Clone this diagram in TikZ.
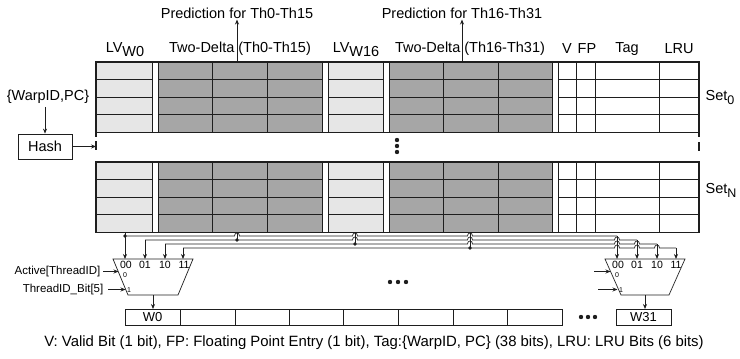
\documentclass[tikz,border=0pt]{standalone}
\usepackage{fontspec}
\setmainfont{Liberation Sans}
\usetikzlibrary{arrows.meta}
\definecolor{lvgray}{RGB}{230,230,230}
\definecolor{tdgray}{RGB}{166,166,166}
\definecolor{ink}{RGB}{30,30,30}
\begin{document}
\begin{tikzpicture}[x=1pt,y=-1pt,
  cell/.style={line width=0.8pt, draw=ink},
  frame/.style={line width=1.3pt, draw=ink},
  wire/.style={line width=0.7pt, draw=ink},
  arr/.style={-{Stealth[length=5pt,width=4pt]}},
  lbl/.style={inner sep=1pt, font=\fontsize{14.5}{16}\selectfont},
  small/.style={inner sep=0.5pt, font=\fontsize{11.5}{13}\selectfont},
  muxlbl/.style={inner sep=0pt, font=\fontsize{10.5}{12}\selectfont},
  tiny/.style={inner sep=0pt, font=\fontsize{7}{8}\selectfont},
  box/.style={draw=ink, line width=0.8pt, inner sep=0pt},
  dot/.style={fill=ink}]
\useasboundingbox (0,0) rectangle (740,359);

% ---------- the two sets ----------
\foreach \t in {62,162} {
  \pgfmathsetmacro\yb{\t+70.5}
  \fill[lvgray] (96,\t) rectangle (152,\yb);
  \fill[lvgray] (328,\t) rectangle (383,\yb);
  \fill[tdgray] (158,\t) rectangle (322,\yb);
  \fill[tdgray] (389,\t) rectangle (552,\yb);
  \foreach \k in {1,2,3} {
    \pgfmathsetmacro\yy{\t+\k*17.625}
    \draw[cell] (96,\yy) -- (152,\yy) (158,\yy) -- (322,\yy) (328,\yy) -- (383,\yy)
                (389,\yy) -- (552,\yy) (558,\yy) -- (699,\yy);
  }
  \foreach \x in {152,158,212,267,322,328,383,389,443,498,552,558,576,595,659}
    \draw[cell] (\x,\t) -- (\x,\yb);
  \draw[frame] (96,\t) rectangle (699,\yb);
}
% frame ticks in the gap
\draw[frame] (96,132) -- (96,137) (96,141) -- (96,150) (699,132) -- (699,137) (699,142) -- (699,151);
% vertical dots
\fill[dot] (397,140) circle (2.2) (397,146) circle (2.2) (397,152) circle (2.2);

% ---------- column labels ----------
\node[lbl] (lv0) at (125,50) {LV\raisebox{-4pt}{W0}};
\node[lbl] (td0) at (240,49) {Two-Delta (Th0-Th15)};
\node[lbl] (lv16) at (356,50) {LV\raisebox{-4pt}{W16}};
\node[lbl] (td1) at (470,49) {Two-Delta (Th16-Th31)};
\node[lbl] (v) at (567,49) {V};
\node[lbl] (fp) at (587,49) {FP};
\node[lbl] (tag) at (627,49) {Tag};
\node[lbl] (lru) at (679,49) {LRU};
\node[lbl] (set0) at (720,97) {Set\raisebox{-4pt}{\fontsize{12.5}{13}\selectfont 0}};
\node[lbl] (setn) at (721,190) {Set\raisebox{-4pt}{\fontsize{12.5}{13}\selectfont N}};

% ---------- predictions ----------
\node[lbl] (pred0) at (237,13) {Prediction for Th0-Th15};
\node[lbl] (pred1) at (462,13) {Prediction for Th16-Th31};
\coordinate (p0) at (237,62);
\coordinate (p1) at (462,62);
\draw[wire,arr] (p0) -- (pred0.south);
\draw[wire,arr] (p1) -- (pred1.south);

% ---------- hash ----------
\node[lbl] (warp) at (48,97) {\{WarpID,PC\}};
\node[box, minimum width=54pt, minimum height=25pt, lbl] (hash) at (45,146.5) {Hash};
\coordinate (hin) at (96,146.5);
\draw[wire,arr] (warp.south -| hash.north) ++(0,2) -- (hash.north);
\draw[wire,arr] (hash.east) -- (hin);

% ---------- bus wires ----------
\draw[wire] (125,236) -- (234.5,236) .. controls (234.5,232) and (239.5,232) .. (239.5,236)
  -- (352.5,236) .. controls (352.5,232) and (357.5,232) .. (357.5,236)
  -- (467.5,236) .. controls (467.5,232) and (472.5,232) .. (472.5,236) -- (617,236);
\draw[wire] (145,240) -- (352.5,240) .. controls (352.5,236) and (357.5,236) .. (357.5,240)
  -- (467.5,240) .. controls (467.5,236) and (472.5,236) .. (472.5,240)
  -- (614.5,240) .. controls (614.5,236) and (619.5,236) .. (619.5,240) -- (637,240);
\draw[wire] (165,244) -- (467.5,244) .. controls (467.5,240) and (472.5,240) .. (472.5,244)
  -- (614.5,244) .. controls (614.5,240) and (619.5,240) .. (619.5,244)
  -- (634.5,244) .. controls (634.5,240) and (639.5,240) .. (639.5,244) -- (657,244);
\draw[wire] (183,248) -- (614.5,248) .. controls (614.5,244) and (619.5,244) .. (619.5,248)
  -- (634.5,248) .. controls (634.5,244) and (639.5,244) .. (639.5,248)
  -- (654.5,248) .. controls (654.5,244) and (659.5,244) .. (659.5,248) -- (676,248);
% taps from the set
\draw[wire] (237,233) -- (237,240);
\draw[wire] (355,233) -- (355,244);
\draw[wire] (470,233) -- (470,248);
\fill[dot] (125,236) circle (1.8) (237,240) circle (1.8) (355,244) circle (1.8) (470,248) circle (1.8);

% ---------- muxes ----------
\coordinate (m0a) at (113,259); \coordinate (m0b) at (193,259);
\coordinate (m0c) at (178,295); \coordinate (m0d) at (128,295);
\draw[wire] (m0a) -- (m0b) -- (m0c) -- (m0d) -- cycle;
\coordinate (m1a) at (605,259); \coordinate (m1b) at (685,259);
\coordinate (m1c) at (669,295); \coordinate (m1d) at (621,295);
\draw[wire] (m1a) -- (m1b) -- (m1c) -- (m1d) -- cycle;

\draw[wire,arr] (125,233) -- (125,259);
\draw[wire,arr] (145,240) -- (145,259);
\draw[wire,arr] (165,244) -- (165,259);
\draw[wire,arr] (183,248) -- (183,259);
\draw[wire,arr] (617,236) -- (617,259);
\draw[wire,arr] (637,240) -- (637,259);
\draw[wire,arr] (657,244) -- (657,259);
\draw[wire,arr] (676,248) -- (676,259);

\foreach \x/\s in {126/00,145/01,165/10,184/11} \node[muxlbl] at (\x,264.5) {\s};
\foreach \x/\s in {618/00,637/01,657/10,676/11} \node[muxlbl] at (\x,264.5) {\s};
\node[tiny] at (125,275.5) {0};
\node[tiny] at (129,290) {1};
\node[tiny] at (617,275.5) {0};
\node[tiny] at (621,290) {1};

\node[small, anchor=east] (act) at (101,271.5) {Active[ThreadID]};
\node[small, anchor=east] (tid) at (104,289.5) {ThreadID\_Bit[5]};
\coordinate (s0a) at (118.5,271.5);
\coordinate (s0b) at (125.5,289.5);
\draw[wire,arr] (act.east) ++(2,0) -- (s0a);
\draw[wire,arr] (tid.east) ++(4,0) -- (s0b);
\coordinate (s1a) at (610.5,271.5);
\coordinate (s1b) at (617.5,289.5);
\draw[wire,arr] (594,271.5) -- (s1a);
\draw[wire,arr] (598,289.5) -- (s1b);

\fill[dot] (390,282) circle (2.2) (398,282) circle (2.2) (406,282) circle (2.2);

% ---------- output register ----------
\foreach \a/\b in {125/180,180/235,235/289,289/343,343/398,398/453,453/507,507/562}
  \draw[cell] (\a,309) rectangle (\b,325);
\node[small, font=\fontsize{13}{14}\selectfont] (w0) at (152.5,317) {W0};
\draw[cell] (616,309) rectangle (671,325);
\node[small, font=\fontsize{13}{14}\selectfont] (w31) at (643.5,317) {W31};
\coordinate (r0) at (153,309);
\coordinate (r1) at (645,309);
\draw[wire,arr] (153,295) -- (r0);
\draw[wire,arr] (645,295) -- (r1);
\fill[dot] (581,317) circle (2.2) (588,317) circle (2.2) (595,317) circle (2.2);

% ---------- footer ----------
\node[inner sep=1pt, font=\fontsize{14.9}{16}\selectfont] (foot) at (374,343) {V: Valid Bit (1 bit), FP: Floating Point Entry (1 bit), Tag:\{WarpID, PC\} (38 bits), LRU: LRU Bits (6 bits)};
\end{tikzpicture}
\end{document}
